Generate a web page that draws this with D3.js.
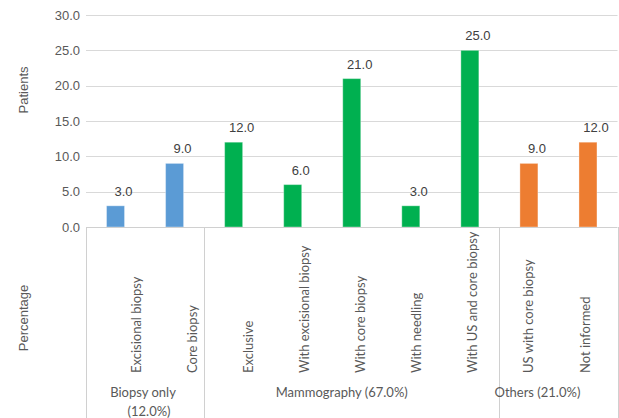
<!DOCTYPE html>
<html><head><meta charset="utf-8">
<script src="https://cdn.jsdelivr.net/npm/d3@7"></script>
<style>body{margin:0;background:#fff}svg{display:block}</style>
</head><body>
<script>
const categories = ["Excisional biopsy","Core biopsy","Exclusive","With excisional biopsy","With core biopsy","With needling","With US and core biopsy","US with core biopsy","Not informed"];
const values = [3,9,12,6,21,3,25,9,12];
const groupOf = [0,0,1,1,1,1,1,2,2];
const groups = [["Biopsy only","(12.0%)"],["Mammography (67.0%)"],["Others (21.0%)"]];
const groupColors = ["#5B9BD5","#00B050","#ED7D31"];
const yTicks = [0,5,10,15,20,25,30];

(function(){
const W=619,H=418;
const mLeft=86,mRight=617.5,mTop=15,base=227;
const svg=d3.select("body").append("svg").attr("width",W).attr("height",H);
const x=d3.scaleBand().domain(categories).range([mLeft,mRight]).paddingInner(0).paddingOuter(0);
const y=d3.scaleLinear().domain([0,30]).range([base,mTop]);
const lab=d3.scalePoint().domain(categories).range([136,585]);

// gridlines
svg.append("g").selectAll("line").data(yTicks.slice(1)).join("line")
 .attr("x1",mLeft).attr("x2",mRight).attr("y1",d=>Math.round(y(d))+0.5).attr("y2",d=>Math.round(y(d))+0.5)
 .attr("stroke","#D9D9D9").attr("stroke-width",1);
// y tick labels
svg.append("g").selectAll("text").data(yTicks).join("text")
 .attr("x",80).attr("y",d=>y(d)).attr("dy","0.35em").attr("text-anchor","end")
 .attr("font-family","Liberation Sans, Arial, sans-serif").attr("font-size",13).attr("fill","#595959")
 .text(d=>d.toFixed(1));
// bars
const bw=18;
svg.append("g").selectAll("rect").data(values).join("rect")
 .attr("x",(d,i)=>x(categories[i])+x.bandwidth()/2-bw/2)
 .attr("width",bw)
 .attr("y",d=>y(d)).attr("height",d=>base-y(d))
 .attr("fill",(d,i)=>groupColors[groupOf[i]])
 .attr("stroke","rgba(255,255,255,0.35)").attr("stroke-width",1);
// value labels
svg.append("g").selectAll("text").data(values).join("text")
 .attr("x",(d,i)=>x(categories[i])+x.bandwidth()/2+8)
 .attr("y",d=>y(d)-10).attr("text-anchor","middle")
 .attr("font-family","Liberation Sans, Arial, sans-serif").attr("font-size",13).attr("fill","#404040")
 .text(d=>d.toFixed(1));
// axis box lines
const ax=svg.append("g").attr("stroke","#D0D0D0").attr("stroke-width",1);
ax.append("line").attr("x1",mLeft).attr("x2",mRight).attr("y1",base+0.5).attr("y2",base+0.5);
const sepIdx=[0,2,7,9];
const sx=d=>Math.round(d<9?x(categories[d]):mRight)+0.5;
ax.selectAll("line.sep").data(sepIdx).join("line").attr("class","sep")
 .attr("x1",sx).attr("x2",sx).attr("y1",base).attr("y2",H);
// category labels
svg.append("g").selectAll("text").data(categories).join("text")
 .attr("transform",d=>`translate(${lab(d)},373) rotate(-90)`)
 .attr("dy","0.35em")
 .attr("font-family","Lato, sans-serif").attr("font-size",13).attr("fill","#595959")
 .text(d=>d);
// group labels
const gc=[ (x(categories[0])+x(categories[1])+x.bandwidth())/2,
           (x(categories[2])+x(categories[6])+x.bandwidth())/2 - 8,
           (x(categories[7])+mRight)/2 - 19 ];
groups.forEach((g,gi)=>{
  g.forEach((line,li)=>{
    svg.append("text").attr("x",gc[gi]+(li?4:-2)).attr("y",392+li*19).attr("dy","0.35em")
     .attr("text-anchor","middle").attr("font-family","Lato, sans-serif").attr("font-size",13).attr("fill","#595959")
     .text(line);
  });
});
// axis titles
svg.append("text").attr("transform","translate(23,90) rotate(-90)").attr("dy","0.35em").attr("text-anchor","middle")
 .attr("font-family","Liberation Sans, Arial, sans-serif").attr("font-size",13).attr("fill","#595959").text("Patients");
svg.append("text").attr("transform","translate(23,318) rotate(-90)").attr("dy","0.35em").attr("text-anchor","middle")
 .attr("font-family","Liberation Sans, Arial, sans-serif").attr("font-size",13).attr("fill","#595959").text("Percentage");
})();
</script>
</body></html>
